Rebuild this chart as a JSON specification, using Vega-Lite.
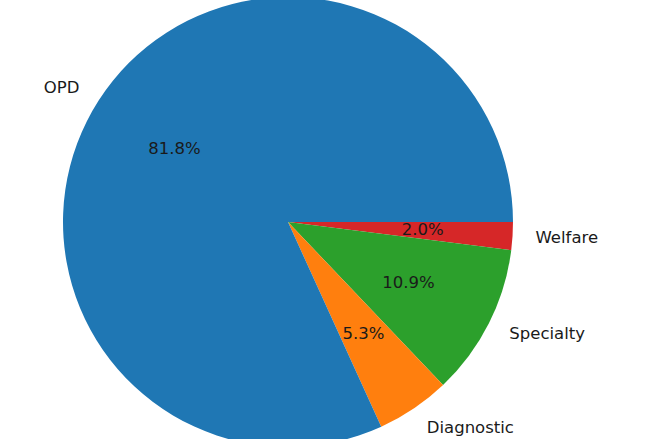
{
  "$schema": "https://vega.github.io/schema/vega-lite/v6.json",
  "autosize": {"type": "none"},
  "width": 576,
  "height": 444,
  "padding": {"left": 0, "top": 0, "right": 72, "bottom": 0},
  "background": "white",
  "view": {"stroke": null},
  "data": {
    "values": [
      {"label": "Welfare", "value": 2.0, "pct": "2.0%", "idx": 1},
      {"label": "Specialty", "value": 10.9, "pct": "10.9%", "idx": 2},
      {"label": "Diagnostic", "value": 5.3, "pct": "5.3%", "idx": 3},
      {"label": "OPD", "value": 81.8, "pct": "81.8%", "idx": 4}
    ]
  },
  "encoding": {
    "theta": {"field": "value", "type": "quantitative", "stack": true, "scale": {"range": [1.5707963, 7.8539816]}},
    "order": {"field": "idx", "type": "quantitative"}
  },
  "layer": [
    {
      "mark": {"type": "arc", "outerRadius": 225},
      "encoding": {
        "color": {
          "field": "label", "type": "nominal", "legend": null,
          "scale": {"domain": ["OPD", "Diagnostic", "Specialty", "Welfare"], "range": ["#1f77b4", "#ff7f0e", "#2ca02c", "#d62728"]}
        }
      }
    },
    {
      "mark": {"type": "text", "radius": 135, "font": "DejaVu Sans", "fontSize": 16.5, "color": "#1a1a1a", "align": "center", "baseline": "middle"},
      "encoding": {"text": {"field": "pct"}}
    },
    {
      "mark": {"type": "text", "radius": 248, "font": "DejaVu Sans", "fontSize": 16.5, "color": "#1a1a1a", "align": "right", "baseline": "middle"},
      "encoding": {"text": {"condition": {"test": "datum.label === 'OPD'", "field": "label"}, "value": ""}}
    },
    {
      "mark": {"type": "text", "radius": 248, "font": "DejaVu Sans", "fontSize": 16.5, "color": "#1a1a1a", "align": "left", "baseline": "middle"},
      "encoding": {"text": {"condition": {"test": "datum.label !== 'OPD'", "field": "label"}, "value": ""}}
    }
  ]
}
